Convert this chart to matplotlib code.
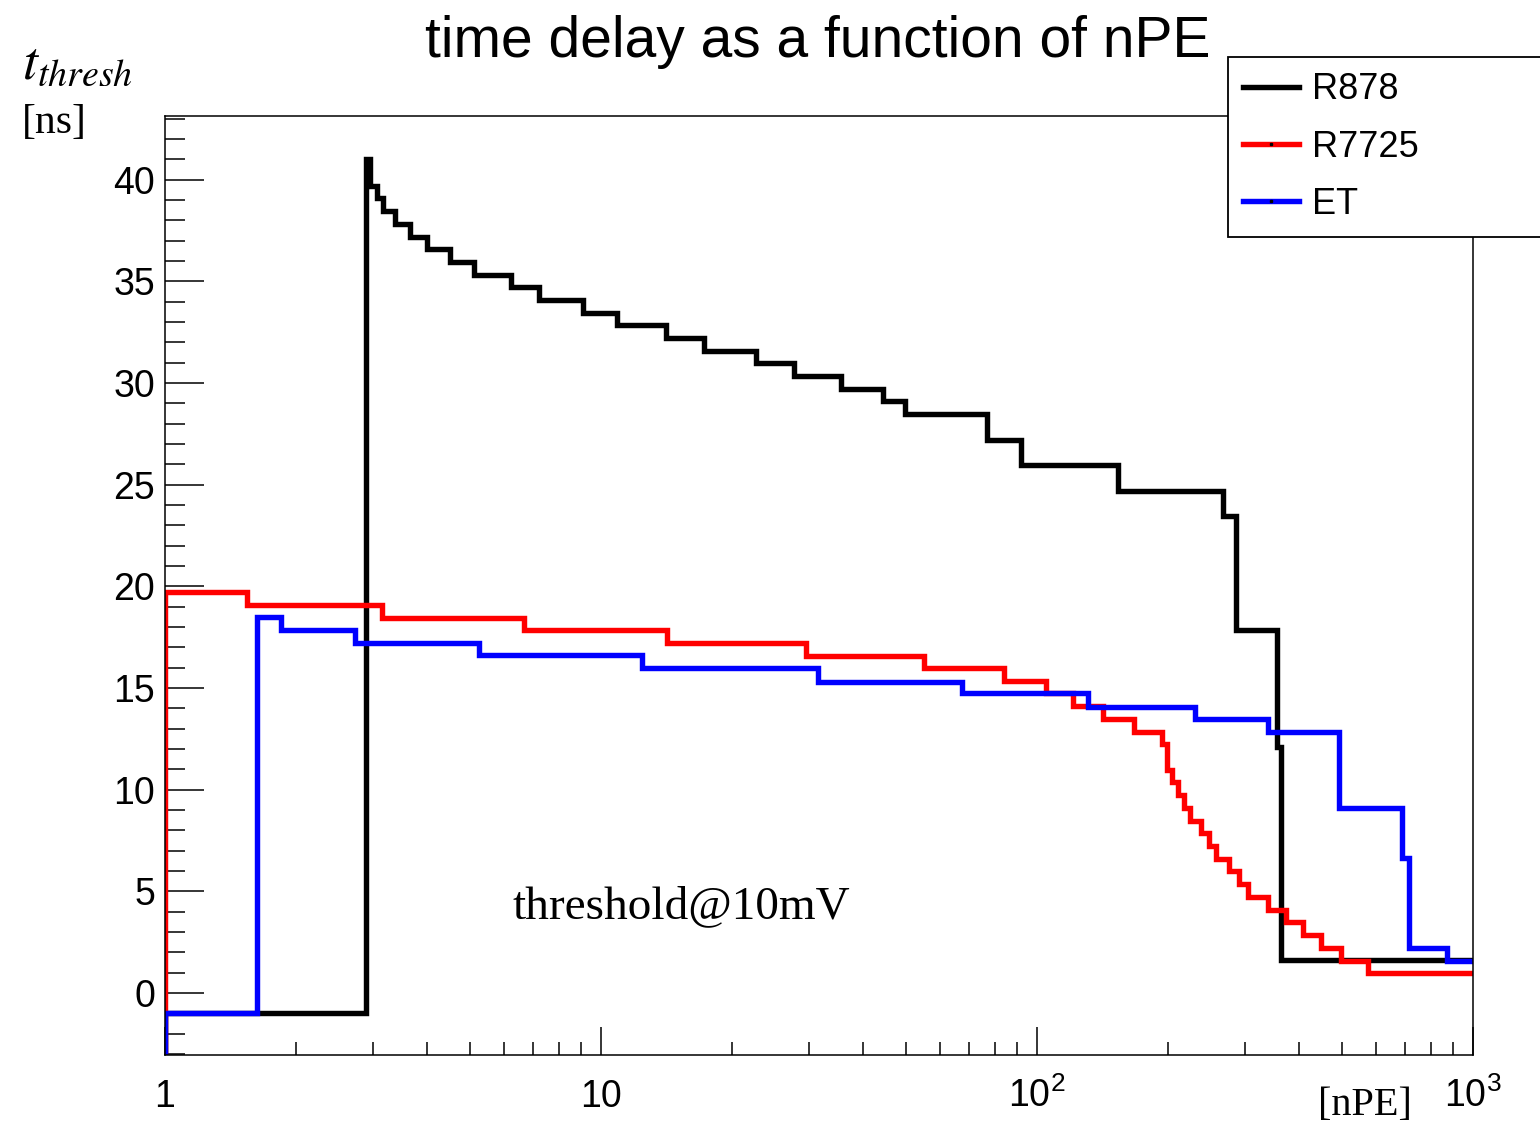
import matplotlib
matplotlib.use('Agg')
import matplotlib.pyplot as plt
from matplotlib.ticker import MultipleLocator, LogLocator, NullFormatter, FixedLocator, FixedFormatter
from matplotlib.lines import Line2D

# bin edges [nPE] and bin contents [ns]
r878_edges = [1.0, 2.891, 2.953, 3.064, 3.162, 3.370, 3.647, 3.990, 4.505, 5.113,
              6.217, 7.206, 9.094, 10.88, 14.10, 17.23, 22.68, 27.71, 35.52, 44.36,
              49.80, 76.79, 91.9, 153.4, 267.1, 286.1, 355.2, 362.7, 1000.0]
r878_vals = [-1.0, 41.0, 39.7, 39.1, 38.46, 37.84, 37.2, 36.58, 35.96, 35.33,
             34.71, 34.09, 33.46, 32.85, 32.2, 31.58, 30.97, 30.33, 29.71, 29.1,
             28.46, 27.22, 25.96, 24.71, 23.46, 17.85, 12.1, 1.6]

r7725_edges = [1.0, 1.542, 3.146, 6.659, 14.17, 29.53, 55.07, 84.02, 104.9, 120.9,
               141.7, 167.0, 193.5, 198.7, 204.0, 210.6, 217.4, 224.4, 237.8, 248.1,
               257.4, 275.7, 290.6, 304.7, 338.7, 372.5, 407.5, 448.1, 498.1, 574.3,
               1000.0]
r7725_vals = [19.74, 19.08, 18.46, 17.84, 17.2, 16.58, 15.97, 15.35, 14.74, 14.13,
              13.48, 12.85, 12.23, 10.97, 10.37, 9.72, 9.1, 8.48, 7.86, 7.23,
              6.61, 5.99, 5.35, 4.72, 4.1, 3.48, 2.85, 2.23, 1.59, 0.97]

et_edges = [1.0, 1.626, 1.845, 2.728, 5.251, 12.42, 31.45, 67.30, 130.9, 230.3,
            338.7, 492.9, 687.5, 713.4, 871.7, 1000.0]
et_vals = [-1.0, 18.51, 17.86, 17.23, 16.6, 15.97, 15.3, 14.74, 14.08, 13.48,
           12.85, 9.08, 6.62, 2.2, 1.59]

names = ['R878', 'R7725', 'ET']
colors = ['black', 'red', 'blue']

x_ticks = [1, 10, 100, 1000]
x_ticklabels = ['1', '10', r'$\mathregular{10^{2}}$', r'$\mathregular{10^{3}}$']

YMIN = -3.05
YMAX = 43.15
LW = 3.9

plt.rcParams['font.family'] = ['Liberation Sans', 'DejaVu Sans']

fig = plt.figure(figsize=(15.4, 11.24), dpi=100)
ax = fig.add_axes([0.10714, 0.06139, 0.84935, 0.83567])


def draw_hist(ax, edges, vals, color):
	# ROOT style outline: start from the bottom of the frame at the first edge
	x = [edges[0]] + list(edges)
	y = [YMIN] + list(vals) + [vals[-1]]
	ax.step(x, y, where='post', color=color, lw=LW, solid_joinstyle='miter',
	        solid_capstyle='butt')


draw_hist(ax, r878_edges, r878_vals, colors[0])
draw_hist(ax, r7725_edges, r7725_vals, colors[1])
draw_hist(ax, et_edges, et_vals, colors[2])

ax.set_xscale('log')
ax.set_xlim(1, 1000)
ax.set_ylim(YMIN, YMAX)

ax.xaxis.set_major_locator(FixedLocator(x_ticks))
ax.xaxis.set_major_formatter(FixedFormatter(x_ticklabels))
ax.xaxis.set_minor_locator(LogLocator(base=10, subs=range(2, 10)))
ax.xaxis.set_minor_formatter(NullFormatter())
ax.yaxis.set_major_locator(MultipleLocator(5))
ax.yaxis.set_minor_locator(MultipleLocator(1))

ax.tick_params(axis='both', which='both', direction='in', top=False, right=False,
               width=1.1, labelsize=27)
ax.tick_params(axis='x', which='major', length=20, pad=37.4)
ax.tick_params(axis='x', which='minor', length=9.4)
ax.tick_params(axis='y', which='major', length=28, pad=7.2)
ax.tick_params(axis='y', which='minor', length=14.4)
for lab in ax.get_xticklabels():
	lab.set_verticalalignment('baseline')
for sp in ax.spines.values():
	sp.set_linewidth(1.1)

fig.text(0.531, 0.9493, 'time delay as a function of nPE', fontsize=41,
         ha='center', va='baseline')

fig.text(0.0143, 0.930, r'$t_{thresh}$', fontsize=39, math_fontfamily='stix',
         ha='left', va='baseline')
fig.text(0.0143, 0.8817, '[ns]', fontsize=30, family='Liberation Serif',
         ha='left', va='baseline')
fig.text(0.8558, 0.0080, '[nPE]', fontsize=29, family='Liberation Serif',
         ha='left', va='baseline')
fig.text(0.3325, 0.1833, 'threshold@10mV', fontsize=34, family='Liberation Serif',
         ha='left', va='baseline')

handles = [Line2D([0], [0], color=c, lw=LW, marker='s', ms=1.5, mfc='black',
                  mec='black') for c in colors]
leg = fig.legend(handles, names, loc='upper left', mode='expand',
                 bbox_to_anchor=(0.7974, 0.7927, 0.3, 0.1566), borderaxespad=0,
                 fontsize=26, frameon=True, fancybox=False, shadow=False,
                 handlelength=1.55, handletextpad=0.36, labelspacing=0.62,
                 borderpad=0.42, numpoints=1)
leg.get_frame().set_edgecolor('black')
leg.get_frame().set_linewidth(1.3)
leg.get_frame().set_alpha(1)

fig.savefig('out.png', dpi=100)
